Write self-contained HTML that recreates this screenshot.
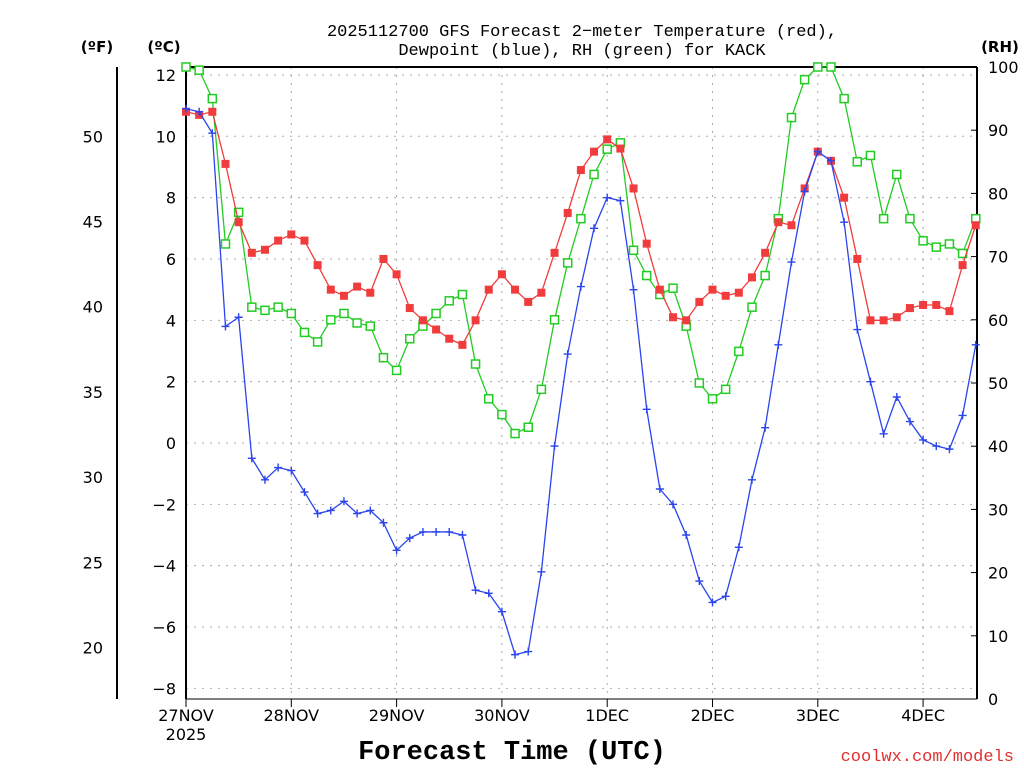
<!DOCTYPE html>
<html><head><meta charset="utf-8"><style>
body{margin:0;background:#fff}
svg text{font-family:"DejaVu Sans","Liberation Sans",sans-serif}
svg text.mono{font-family:"Liberation Mono","DejaVu Sans Mono",monospace}
</style></head><body>
<svg id="c" width="1024" height="768" xmlns="http://www.w3.org/2000/svg">
<g font-size="17" text-anchor="middle" fill="#000">
<text class="mono" x="582" y="36">2025112700 GFS Forecast 2−meter Temperature (red),</text>
<text class="mono" x="582" y="55">Dewpoint (blue), RH (green) for KACK</text>
</g>
<text x="97" y="52" font-size="15" text-anchor="middle" font-weight="bold">(ºF)</text>
<text x="164" y="52" font-size="15" text-anchor="middle" font-weight="bold">(ºC)</text>
<text x="1000" y="52" font-size="15" text-anchor="middle" font-weight="bold">(RH)</text>
<text class="mono" x="512" y="759" font-size="27" font-weight="bold" text-anchor="middle">Forecast Time (UTC)</text>
<text class="mono" x="1014" y="761" font-size="17" text-anchor="end" fill="#e03030">coolwx.com/models</text>
<g id="grid"></g><g id="axes"></g><g id="series"></g>
</svg>
<script>
const hours=[0,3,6,9,12,15,18,21,24,27,30,33,36,39,42,45,48,51,54,57,60,63,66,69,72,75,78,81,84,87,90,93,96,99,102,105,108,111,114,117,120,123,126,129,132,135,138,141,144,147,150,153,156,159,162,165,168,171,174,177,180];
const temp=[10.8,10.7,10.8,9.1,7.2,6.2,6.3,6.6,6.8,6.6,5.8,5.0,4.8,5.1,4.9,6.0,5.5,4.4,4.0,3.7,3.4,3.2,4.0,5.0,5.5,5.0,4.6,4.9,6.2,7.5,8.9,9.5,9.9,9.6,8.3,6.5,5.0,4.1,4.0,4.6,5.0,4.8,4.9,5.4,6.2,7.2,7.1,8.3,9.5,9.2,8.0,6.0,4.0,4.0,4.1,4.4,4.5,4.5,4.3,5.8,7.1];
const dew=[10.9,10.8,10.1,3.8,4.1,-0.5,-1.2,-0.8,-0.9,-1.6,-2.3,-2.2,-1.9,-2.3,-2.2,-2.6,-3.5,-3.1,-2.9,-2.9,-2.9,-3.0,-4.8,-4.9,-5.5,-6.9,-6.8,-4.2,-0.1,2.9,5.1,7.0,8.0,7.9,5.0,1.1,-1.5,-2.0,-3.0,-4.5,-5.2,-5.0,-3.4,-1.2,0.5,3.2,5.9,8.2,9.5,9.2,7.2,3.7,2.0,0.3,1.5,0.7,0.1,-0.1,-0.2,0.9,3.2];
const rh=[100,99.5,95,72,77,62,61.5,62,61,58,56.5,60,61,59.5,59,54,52,57,59,61,63,64,53,47.5,45,42,43,49,60,69,76,83,87,88,71,67,64,65,59,50,47.5,49,55,62,67,76,92,98,100,100,95,85,86,76,83,76,72.5,71.5,72,70.5,76];
const cTicks=[-8,-6,-4,-2,0,2,4,6,8,10,12];
const fTicks=[20,25,30,35,40,45,50];
const rhTicks=[0,10,20,30,40,50,60,70,80,90,100];
const dayLabels=["27NOV","28NOV","29NOV","30NOV","1DEC","2DEC","3DEC","4DEC"];
const X0=186,X1=977,YT=67,YB=699;
const xs=h=>X0+h*105.3/24;
const yc=c=>443-c*30.67;
const yr=r=>YB-r*(YB-YT)/100;
const NS="http://www.w3.org/2000/svg";
function mk(tag,attrs,parent,txt){const e=document.createElementNS(NS,tag);for(const k in attrs)e.setAttribute(k,attrs[k]);if(txt!==undefined)e.textContent=txt;parent.appendChild(e);return e;}
const grid=document.getElementById('grid'),axes=document.getElementById('axes'),ser=document.getElementById('series');
cTicks.forEach(c=>{const y=yc(c);
 const l=mk('line',{x1:X0,x2:X1,y1:y,y2:y,stroke:'#aaa','stroke-dasharray':'2,6'},grid);
 
 
 const t=mk('text',{x:176,y:y+6,'font-size':16,'text-anchor':'end'},axes,c<0?'−'+(-c):String(c));
 
 
});
fTicks.forEach(f=>{const y=yc((f-32)*5/9);
 const t=mk('text',{x:103,y:y+6,'font-size':16,'text-anchor':'end'},axes,String(f));
 
 
});
rhTicks.forEach(r=>{const y=yr(r);
 const t=mk('text',{x:988,y:y+6,'font-size':16},axes,String(r));
 
 
 mk('line',{x1:X1-6,x2:X1,y1:y,y2:y,stroke:'#000'},axes);
});
dayLabels.forEach((d,i)=>{const x=xs(i*24);
 if(i>0){const l=mk('line',{x1:x,x2:x,y1:YT,y2:YB,stroke:'#aaa','stroke-dasharray':'2,6'},grid);
 
 }
 const t=mk('text',{x:x,y:721,'font-size':16,'text-anchor':'middle'},axes,d);
 
 
 mk('line',{x1:x,x2:x,y1:YB,y2:YB+8,stroke:'#000'},axes);
});
mk('text',{x:186,y:740,'font-size':16,'text-anchor':'middle'},axes,'2025');
mk('line',{x1:117,x2:117,y1:YT,y2:YB,stroke:'#000','stroke-width':2},axes);
mk('line',{x1:X0,x2:X0,y1:YT,y2:YB,stroke:'#000','stroke-width':2},axes);
mk('line',{x1:X1,x2:X1,y1:YT,y2:YB,stroke:'#000','stroke-width':2},axes);
mk('line',{x1:X0,x2:X1,y1:YT,y2:YT,stroke:'#000','stroke-width':2},axes);
mk('line',{x1:X0,x2:X1,y1:YB,y2:YB,stroke:'#000','stroke-width':1},axes);
function series(vals,yf,color,name,marker){
 const pts=vals.map((v,i)=>[xs(hours[i]),yf(v)]);
 const p=mk('polyline',{points:pts.map(q=>q.join(',')).join(' '),fill:'none',stroke:color,'stroke-width':1.3},ser);
 
 
 pts.forEach(([x,y])=>{let m;
  if(marker==='fill')m=mk('rect',{x:x-4,y:y-4,width:8,height:8,fill:color},ser);
  else if(marker==='hollow')m=mk('rect',{x:x-4,y:y-4,width:8,height:8,fill:'#fff',stroke:color,'stroke-width':1.5},ser);
  else m=mk('path',{d:`M${x-4},${y}H${x+4}M${x},${y-4}V${y+4}`,stroke:color,'stroke-width':1.4},ser);
  
  
 });
}
series(rh,yr,'#22cc22','rh','hollow');
series(temp,yc,'#f03c3c','temperature','fill');
series(dew,yc,'#2a44ee','dewpoint','plus');
</script>
</body></html>
